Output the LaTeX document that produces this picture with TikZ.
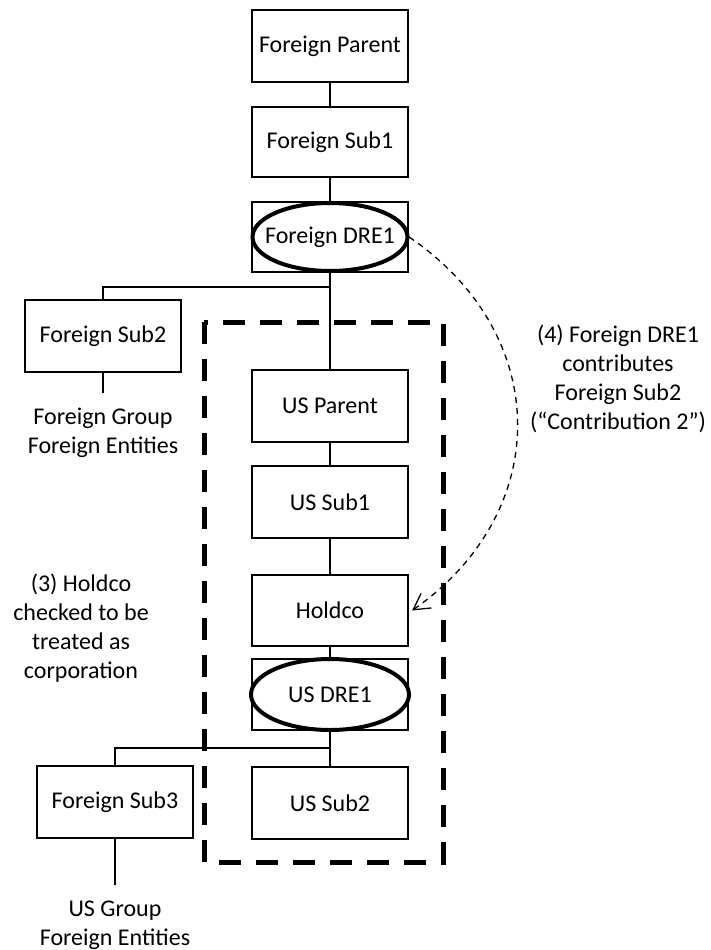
\documentclass[tikz,border=0pt]{standalone}
\usepackage{fontspec}
\setmainfont{Carlito}
\usetikzlibrary{shapes.geometric,arrows.meta}
\begin{document}
\begin{tikzpicture}[x=1pt,y=-1pt,
  every node/.style={font=\fontsize{24}{28.8}\selectfont},
  entity/.style={draw,line width=2.2pt,minimum width=156pt,minimum height=72pt,inner sep=0pt},
  dreoval/.style={draw,ellipse,line width=4pt,minimum width=155pt,minimum height=68pt,inner sep=0pt},
  link/.style={line width=1.6pt},
  note/.style={align=center,inner sep=0pt},
  groupline/.style={line width=5pt,dash pattern=on 22pt off 15pt},
  contrib/.style={line width=1.3pt,dash pattern=on 6pt off 5pt,-{Straight Barb[length=16pt,width=18pt]}}
]
\useasboundingbox (0,0) rectangle (710,950);

% US consolidated group boundary
\draw[groupline] (204,322) rectangle (443,862);

% foreign chain
\node[entity] (fparent) at (330,46) {Foreign Parent};
\node[entity,minimum height=70pt] (fsub1) at (330,142) {Foreign Sub1};
\node[entity,minimum height=70pt] (fdrebox) at (330,237) {};
\node[dreoval,label=center:Foreign DRE1] (fdre) at (330,237) {};
\node[entity] (fsub2) at (103,336) {Foreign Sub2};
\node[note] (fgroup) at (103,433) {Foreign Group\\Foreign Entities};

% US chain
\node[entity] (usparent) at (330,406) {US Parent};
\node[entity] (ussub1) at (330,502) {US Sub1};
\node[entity,minimum height=71pt] (holdco) at (330,610.5) {Holdco};
\node[entity,minimum height=71pt] (usdrebox) at (330,694.5) {};
\node[dreoval,minimum height=71pt,minimum width=158pt,label=center:US DRE1] (usdre) at (330,694.5) {};
\node[entity] (fsub3) at (115,802) {Foreign Sub3};
\node[entity] (ussub2) at (330,803) {US Sub2};
\node[note] (usgroup) at (115,925) {US Group\\Foreign Entities};

% annotations
\node[note] (step4) at (618,379) {(4) Foreign DRE1\\contributes\\Foreign Sub2\\(“Contribution 2”)};
\node[note] (step3) at (81,628) {(3) Holdco\\checked to be\\treated as\\corporation};

% ownership links
\coordinate (j1) at (330,287);
\coordinate (j2) at (330,748);
\coordinate (fsub2end) at (103,393);
\coordinate (fsub3end) at (115,885);
\draw[link] (fparent.south) -- (fsub1.north);
\draw[link] (fsub1.south) -- (fdrebox.north);
\draw[link] (fdrebox.south) -- (usparent.north);
\draw[link] (j1) -| (fsub2.north);
\draw[link] (fsub2.south) -- (fsub2end);
\draw[link] (usparent.south) -- (ussub1.north);
\draw[link] (ussub1.south) -- (holdco.north);
\draw[link] (holdco.south) -- (usdrebox.north);
\draw[link] (usdrebox.south) -- (ussub2.north);
\draw[link] (j2) -| (fsub3.north);
\draw[link] (fsub3.south) -- (fsub3end);

% contribution arrow
\draw[contrib] (fdrebox.east) .. controls (553,335) and (553,512) .. ([xshift=3pt]holdco.east);
\end{tikzpicture}
\end{document}
